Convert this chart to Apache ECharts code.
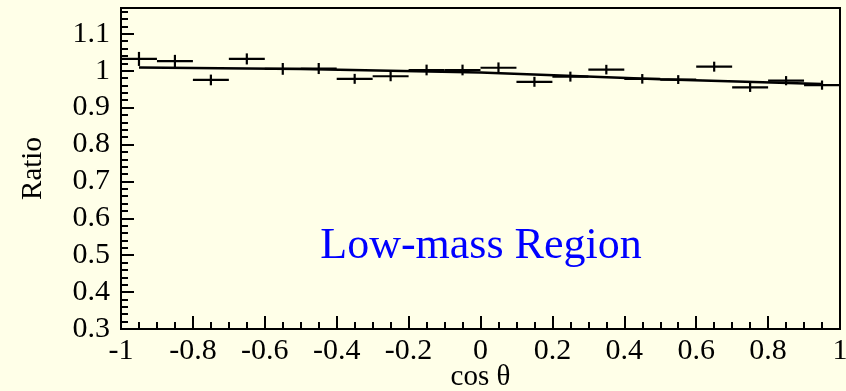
<!DOCTYPE html>
<html>
<head>
<meta charset="utf-8">
<script src="https://cdn.jsdelivr.net/npm/echarts@6/dist/echarts.min.js"></script>
<style>html,body{margin:0;padding:0;background:#ffffe8;}#c{width:846px;height:391px;}</style>
</head>
<body>
<div id="c"></div>
<script>
// bin centres (cos theta), bin half width 0.05
var binCenters = [-0.95,-0.85,-0.75,-0.65,-0.55,-0.45,-0.35,-0.25,-0.15,-0.05,0.05,0.15,0.25,0.35,0.45,0.55,0.65,0.75,0.85,0.95];
var ratioValues = [1.032,1.026,0.975,1.032,1.005,1.006,0.978,0.985,1.002,1.002,1.008,0.970,0.984,1.003,0.978,0.976,1.011,0.955,0.973,0.961];
var ratioErrors = [0.019,0.017,0.0145,0.015,0.016,0.015,0.0135,0.0135,0.0145,0.0145,0.0145,0.0135,0.0135,0.013,0.013,0.012,0.0135,0.0125,0.0125,0.0125];
var binHalfWidth = 0.05;
// fit curve
var fitX = [-0.95,-0.5,0,0.5,0.95];
var fitY = [1.009,1.005,0.995,0.977,0.964];
var xTicks = [-1,-0.8,-0.6,-0.4,-0.2,0,0.2,0.4,0.6,0.8,1];
var yTicks = [0.3,0.4,0.5,0.6,0.7,0.8,0.9,1,1.1];
var annotation = 'Low-mass Region';

var chart = echarts.init(document.getElementById('c'));
var font = 'Liberation Serif';
var pts = binCenters.map(function(x,i){return [x, ratioValues[i], ratioErrors[i]];});
var fit = fitX.map(function(x,i){return [x, fitY[i]];});

function near(v, arr){for(var i=0;i<arr.length;i++){if(Math.abs(v-arr[i])<1e-6) return arr[i];}return null;}

chart.setOption({
  backgroundColor:'#ffffe8',
  animation:false,
  grid: {left:121, right:6, top:8, bottom:62, containLabel:false, outerBoundsMode:'none',
    show:true, borderColor:'#000', borderWidth:2, backgroundColor:'transparent'},
  xAxis:[{
    type:'value', min:-1, max:1, interval:0.2,
    name:'cos θ', nameLocation:'middle', nameGap:34, nameMoveOverlap:false,
    nameTextStyle:{fontFamily:font, fontSize:29, color:'#000'},
    axisLine:{show:true, onZero:false, lineStyle:{color:'#000', width:2}},
    axisTick:{show:true, inside:true, length:13, lineStyle:{color:'#000', width:2}},
    axisLabel:{fontFamily:font, fontSize:30, color:'#000', margin:7,
      formatter:function(v){var t=near(v,xTicks); return t===null?'':String(t);}},
    splitLine:{show:false}
  },{
    type:'value', min:-1, max:1, interval:0.05, position:'bottom',
    axisLine:{show:false, onZero:false}, axisLabel:{show:false}, splitLine:{show:false},
    axisTick:{show:true, inside:true, length:7, lineStyle:{color:'#000', width:2}}
  }],
  yAxis:[{
    type:'value', min:0.3, max:1.17, interval:0.1,
    name:'Ratio', nameLocation:'middle', nameGap:73, nameRotate:90, nameMoveOverlap:false,
    nameTextStyle:{fontFamily:font, fontSize:29, color:'#000'},
    axisLine:{show:true, onZero:false, lineStyle:{color:'#000', width:2}},
    axisTick:{show:true, inside:true, length:13, lineStyle:{color:'#000', width:2}},
    axisLabel:{fontFamily:font, fontSize:30, color:'#000', margin:11,
      formatter:function(v){var t=near(v,yTicks); return t===null?'':String(t);}},
    splitLine:{show:false}
  },{
    type:'value', min:0.3, max:1.17, interval:0.02, position:'left',
    axisLine:{show:false, onZero:false}, axisLabel:{show:false}, splitLine:{show:false},
    axisTick:{show:true, inside:true, length:7, lineStyle:{color:'#000', width:2}}
  }],
  graphic:[{
    type:'text', x:481, y:246,
    style:{text:annotation, x:0, y:0, align:'center', verticalAlign:'middle',
      font:'44px "Liberation Serif"', fill:'#0000ff'}
  }],
  series:[{
    type:'line', data:fit, xAxisIndex:0, yAxisIndex:0, showSymbol:false, symbol:'none',
    lineStyle:{color:'#000', width:2.5}, z:3
  },{
    type:'custom', xAxisIndex:0, yAxisIndex:0, data:pts, z:4,
    renderItem:function(params, api){
      var x=api.value(0), y=api.value(1), e=api.value(2);
      var l=api.coord([x-binHalfWidth,y]), r=api.coord([x+binHalfWidth,y]);
      var t=api.coord([x,y+e]), b=api.coord([x,y-e]);
      var st={stroke:'#000', lineWidth:2.2};
      return {type:'group', children:[
        {type:'line', shape:{x1:l[0],y1:l[1],x2:r[0],y2:r[1]}, style:st},
        {type:'line', shape:{x1:t[0],y1:t[1],x2:b[0],y2:b[1]}, style:st}
      ]};
    }
  }]
});
</script>
</body>
</html>
